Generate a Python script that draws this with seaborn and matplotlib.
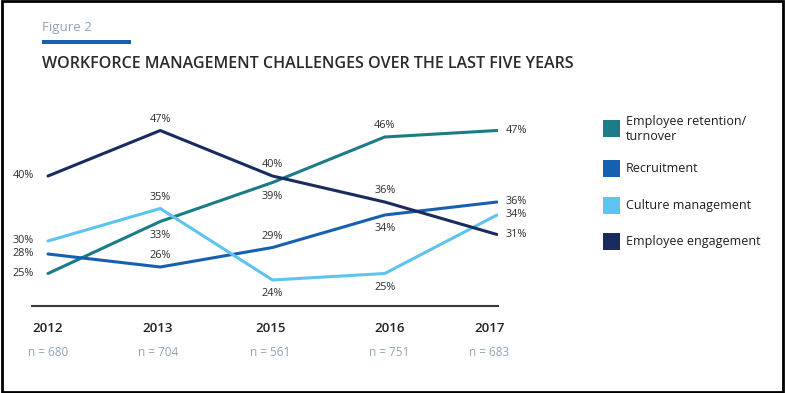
import matplotlib
matplotlib.use("Agg")
import matplotlib.pyplot as plt
import seaborn as sns
import pandas as pd
from matplotlib.patches import Rectangle
from matplotlib.transforms import blended_transform_factory

years = ["2012", "2013", "2015", "2016", "2017"]
n_labels = ["n = 680", "n = 704", "n = 561", "n = 751", "n = 683"]
series_names = ["Employee retention/\nturnover", "Recruitment", "Culture management", "Employee engagement"]
retention = [25, 33, 39, 46, 47]
recruitment = [28, 26, 29, 34, 36]
culture = [30, 35, 24, 25, 34]
engagement = [40, 47, 40, 36, 31]
colors = ["#1b7b86", "#1660b1", "#5cc4ee", "#1b2b5f"]

# label placement: 'a' above, 'b' below (for middle points)
placement = {
    0: ["l", "b", "b", "a", "r"],
    1: ["l", "a", "a", "b", "r"],
    2: ["l", "a", "b", "b", "r"],
    3: ["l", "a", "a", "a", "r"],
}

sns.set_style("white")
plt.rcParams['font.family'] = ['Open Sans', 'DejaVu Sans']

all_vals = [retention, recruitment, culture, engagement]
rows = []
for name, vals in zip(series_names, all_vals):
    for i, v in enumerate(vals):
        rows.append({"series": name, "x": i, "value": v})
df = pd.DataFrame(rows)

fig = plt.figure(figsize=(7.85, 3.93), dpi=100)
ax = fig.add_axes([32/785, 1 - 306/393, 466/785, (306 - 111)/393])

sns.lineplot(data=df, x="x", y="value", hue="series", palette=colors,
             hue_order=series_names, linewidth=2.2, legend=False, ax=ax, sort=False)

ax.set_xlim(-0.1425, 4.009)
ax.set_ylim(20, 50)
for s in ["top", "right", "left"]:
    ax.spines[s].set_visible(False)
ax.spines["bottom"].set_color("#3a3a3a")
ax.spines["bottom"].set_linewidth(1.5)
ax.set_xticks([])
ax.set_yticks([])
ax.set_xlabel("")
ax.set_ylabel("")

lab_kw = dict(fontsize=7.8, color="#2e2e2e")
for si, vals in enumerate(all_vals):
    for i, v in enumerate(vals):
        p = placement[si][i]
        t = f"{v}%"
        if p == "l":
            ax.annotate(t, (i, v), xytext=(-10, 0), textcoords="offset points",
                        ha="right", va="center", **lab_kw)
        elif p == "r":
            ax.annotate(t, (i, v), xytext=(6, 0), textcoords="offset points",
                        ha="left", va="center", **lab_kw)
        elif p == "a":
            ax.annotate(t, (i, v), xytext=(0, 8), textcoords="offset points",
                        ha="center", va="center", **lab_kw)
        else:
            ax.annotate(t, (i, v), xytext=(0, -10), textcoords="offset points",
                        ha="center", va="center", **lab_kw)

# x labels
trans = blended_transform_factory(ax.transData, fig.transFigure)
year_x = [0.0, -0.02, -0.02, 0.04, -0.07]
for i, (yr, n) in enumerate(zip(years, n_labels)):
    ax.text(i + year_x[i], 1 - 328/393, yr, transform=trans, ha="center", va="center",
            fontsize=9.5, fontweight="semibold", color="#222222")
    ax.text(i + year_x[i], 1 - 353/393, n, transform=trans, ha="center", va="center",
            fontsize=8.5, color="#8fa4b4")

# titles
fig.text(42/785, 1 - 27/393, "Figure 2", fontsize=9.6, color="#8fa4b4", ha="left", va="center")
fig.patches.append(Rectangle((42/785, 1 - 44/393), 89/785, 4/393, transform=fig.transFigure,
                             facecolor="#1660b1", edgecolor="none"))
fig.text(42/785, 1 - 64/393, "WORKFORCE MANAGEMENT CHALLENGES OVER THE LAST FIVE YEARS",
         fontsize=11.5, fontweight="semibold", color="#2a2a2a", ha="left", va="center")

# legend
leg_y = [129, 168.5, 205, 241.5]
for name, c, y in zip(series_names, colors, leg_y):
    fig.patches.append(Rectangle((603/785, 1 - (y + 8.5)/393), 17/785, 17/393,
                                 transform=fig.transFigure, facecolor=c, edgecolor="none"))
    fig.text(626/785, 1 - y/393, name, fontsize=9, color="#1e1e1e", ha="left", va="center",
             linespacing=1.2)

# border
fig.patches.append(Rectangle((0.002, 0.003), 0.996, 0.994, transform=fig.transFigure,
                             facecolor="none", edgecolor="black", linewidth=2))

fig.savefig("out.png", dpi=100)
